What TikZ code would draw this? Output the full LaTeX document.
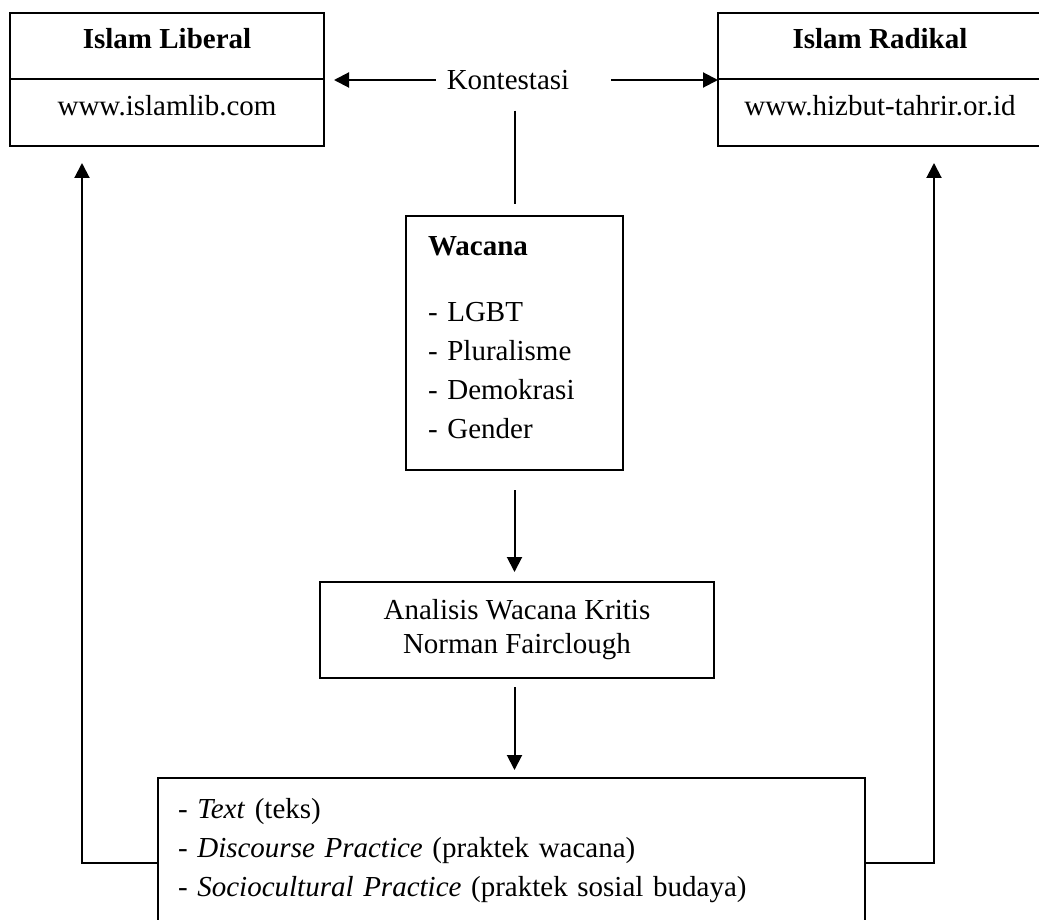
\documentclass[tikz,border=0pt]{standalone}
\usepackage{fontspec}
\setmainfont{Liberation Serif}
\usetikzlibrary{positioning,arrows.meta}
\begin{document}
\begin{tikzpicture}[x=0.5pt, y=-0.5pt, line width=1pt,
    font=\fontsize{14.5pt}{19.5pt}\selectfont,
    >={Triangle[length=7.5pt,width=7.5pt]},
    cell/.style={draw, inner sep=0pt, outer sep=0pt, text height=10pt, text depth=7pt},
    kotak/.style={draw, inner sep=0pt, outer sep=0pt}]
  \useasboundingbox (0,0) rectangle (1039,920);
  % dua situs
  \node[cell, minimum width=157pt, minimum height=33pt] (libT) at (167,46) {\textbf{Islam Liberal}};
  \node[cell, minimum width=157pt, minimum height=33.5pt, below=0pt of libT] (libB) {www.islamlib.com};
  \node[cell, minimum width=162pt, minimum height=33pt] (radT) at (880,46) {\textbf{Islam Radikal}};
  \node[cell, minimum width=162pt, minimum height=33.5pt, below=0pt of radT] (radB) {www.hizbut-tahrir.or.id};
  \node[inner sep=4.9pt] (kon) at (508,80) {Kontestasi};
  % alur tengah
  \node[kotak, minimum width=108.5pt, minimum height=127pt, text width=86.5pt, inner xsep=11pt, align=left] (wac) at (514.5,343)
    {\textbf{Wacana}\\[13.5pt] - LGBT\\ - Pluralisme\\ - Demokrasi\\ - Gender\strut};
  \node[kotak, minimum width=197pt, minimum height=48pt, align=center, font=\fontsize{14.5pt}{17pt}\selectfont] (ana) at (517,630)
    {Analisis Wacana Kritis\\Norman Fairclough};
  \node[kotak, minimum width=353.5pt, minimum height=73pt, text width=333.5pt, inner xsep=10pt, align=left] (bot) at (511.5,851)
    {- \textit{Text} (teks)\\ - \textit{Discourse Practice} (praktek wacana)\\ - \textit{Sociocultural Practice} (praktek sosial budaya)};
  \draw[->, shorten >=5pt] (kon.west) -- (kon.west -| libT.east);
  \draw[->, shorten <=15.5pt] (kon.east) -- (kon.east -| radT.west);
  \draw[shorten <=5pt, shorten >=6pt] (kon.south -| wac.north) -- (wac.north);
  \draw[->, shorten <=10pt, shorten >=5pt] (wac.south) -- (wac.south |- ana.north);
  \draw[->, shorten <=4.5pt, shorten >=4pt] (wac.south |- ana.south) -- (wac.south |- bot.north);
  % umpan balik
  \coordinate (balikL) at (82,863);
  \coordinate (balikR) at (934,863);
  \draw[->, shorten >=8.5pt] (balikL -| bot.west) -- (balikL) -- (balikL |- libB.south);
  \draw[->, shorten >=8.5pt] (balikR -| bot.east) -- (balikR) -- (balikR |- radB.south);
\end{tikzpicture}
\end{document}
